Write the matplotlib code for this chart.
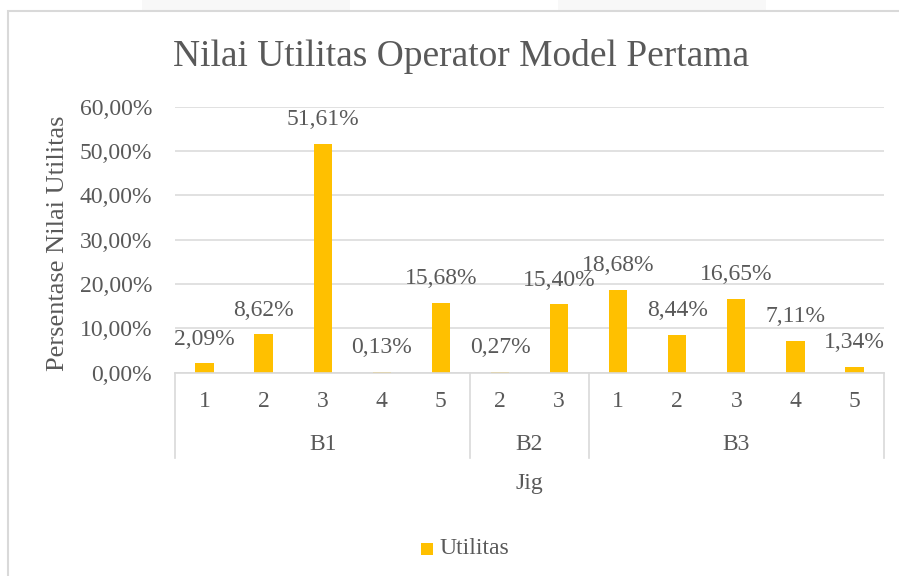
import matplotlib
matplotlib.use("Agg")
import matplotlib.pyplot as plt
from matplotlib.patches import Rectangle
from matplotlib.lines import Line2D
import matplotlib.transforms as mtransforms

# ---- data ----
groups = ["B1", "B2", "B3"]
jigs = [["1", "2", "3", "4", "5"], ["2", "3"], ["1", "2", "3", "4", "5"]]
utilitas = [2.09, 8.62, 51.61, 0.13, 15.68,
            0.27, 15.40,
            18.68, 8.44, 16.65, 7.11, 1.34]
yticks = [0, 10, 20, 30, 40, 50, 60]
title = "Nilai Utilitas Operator Model Pertama"
ylabel = "Persentase Nilai Utilitas"
xlabel = "Jig"
legend_label = "Utilitas"

# ---- style ----
W, H = 899, 576
BAR = "#FFC000"
TXT = "#595959"
GRID = "#D9D9D9"
FS = 17
plt.rcParams["font.family"] = ["Liberation Serif", "DejaVu Serif"]

fig = plt.figure(figsize=(W / 100, H / 100), dpi=100)
fig.patch.set_facecolor("white")

def fx(px):
    return px / W

def fy(py):
    return 1 - py / H

# faint page artifacts above the chart
for x0, x1 in [(142, 350), (558, 766)]:
    fig.patches.append(Rectangle((fx(x0), fy(10)), fx(x1 - x0), fy(0) - fy(10),
                                 transform=fig.transFigure, facecolor="#F8F8F8",
                                 edgecolor="none"))

# chart border
fig.patches.append(Rectangle((fx(8), fy(700)), fx(1000), fy(11) - fy(700),
                             transform=fig.transFigure, fill=False,
                             edgecolor=GRID, linewidth=1.5))

left, right, top, bottom = 175, 884, 106.7, 372.7
ax = fig.add_axes([fx(left), fy(bottom), fx(right - left), fy(top) - fy(bottom)])
n = len(utilitas)
xs = list(range(n))
ax.bar(xs, utilitas, width=0.31, color=BAR, zorder=3)
ax.set_xlim(-0.5, n - 0.5)
ax.set_ylim(0, 60)
ax.set_yticks(yticks)
ax.set_yticklabels([f"{v:.2f}%".replace(".", ",") for v in yticks],
                   fontsize=FS, color=TXT)
ax.tick_params(axis="y", length=0, pad=16.6)
ax.set_xticks([])
for s in ["top", "right", "left"]:
    ax.spines[s].set_visible(False)
ax.spines["bottom"].set_color(GRID)
ax.spines["bottom"].set_linewidth(1.2)
ax.spines["bottom"].set_zorder(4)
ax.yaxis.grid(True, color=GRID, linewidth=1.1, zorder=0)
ax.set_axisbelow(True)
ax.set_facecolor("none")

# data labels
for x, v in zip(xs, utilitas):
    ax.annotate(f"{v:.2f}%".replace(".", ","), (x, v), xytext=(0, 17.5),
                textcoords="offset points", ha="center", va="center",
                fontsize=FS, color=TXT, zorder=5)

# category axis (two levels)
bt = mtransforms.blended_transform_factory(ax.transData, fig.transFigure)
idx = 0
bounds = [-0.5]
for g, js in zip(groups, jigs):
    start = idx
    for j in js:
        ax.text(idx, fy(401.7), j, transform=bt, ha="center", va="center",
                fontsize=FS, color=TXT)
        idx += 1
    ax.text((start + idx - 1) / 2, fy(445), g, transform=bt, ha="center",
            va="center", fontsize=FS, color=TXT)
    bounds.append(idx - 0.5)
for b in bounds:
    ax.add_line(Line2D([b, b], [fy(bottom), fy(458)], transform=bt,
                       color=GRID, linewidth=1.2, clip_on=False))

# titles
fig.text(fx(461.5), fy(66), title, ha="center", va="baseline",
         fontsize=27, color=TXT)
fig.text(fx(58), fy(243.5), ylabel, rotation=90, ha="center", va="center",
         fontsize=19, color=TXT)
fig.text(fx(529.5), fy(483), xlabel, ha="center", va="center",
         fontsize=FS, color=TXT)

# legend
fig.patches.append(Rectangle((fx(421), fy(555)), fx(12), fy(543) - fy(555),
                             transform=fig.transFigure, facecolor=BAR,
                             edgecolor="none"))
fig.text(fx(439), fy(549), legend_label, ha="left", va="center",
         fontsize=FS, color=TXT)

fig.savefig("out.png", dpi=100)
